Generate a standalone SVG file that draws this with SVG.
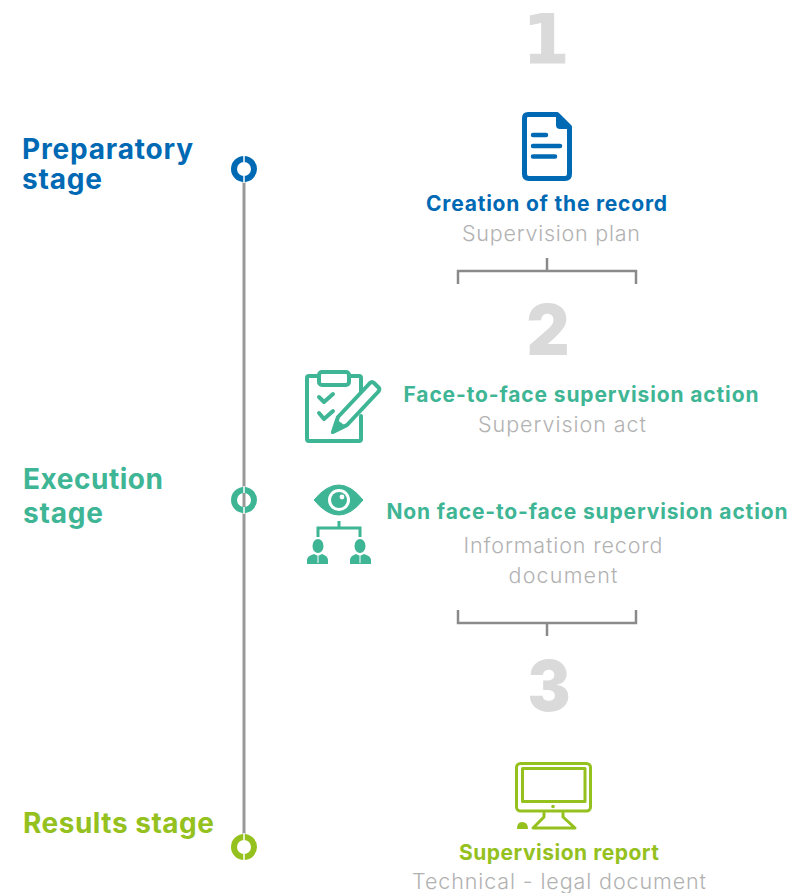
<svg xmlns="http://www.w3.org/2000/svg" width="803" height="893" viewBox="0 0 803 893">
<style>
text{font-family:Inter,"Open Sans",sans-serif}
.num{font-size:70px;font-weight:900;fill:#dadada;text-anchor:middle}
.one{font-family:"DejaVu Sans",sans-serif;font-size:67px;font-weight:700;stroke:#dadada;stroke-width:1}
.stage{font-size:28px;font-weight:700}
.title{font-size:21px;font-weight:700;text-anchor:middle}
.sub{font-size:21.5px;font-weight:300;fill:#b2b2b2;text-anchor:middle}
.blue{fill:#0069b4}.teal{fill:#3eb594}.green{fill:#95c11f}
.ln{fill:none;stroke:#8a8a8a;stroke-width:2.5}
.ring{fill:none;stroke-width:6}
.gap{stroke:#fff;stroke-width:1.5}
.sb{fill:none;stroke:#0069b4;stroke-linecap:round;stroke-linejoin:round}
.st{fill:none;stroke:#3eb594;stroke-linecap:round;stroke-linejoin:round}
.sg{fill:none;stroke:#95c11f;stroke-linecap:round;stroke-linejoin:round}
</style>
<rect width="803" height="893" fill="#fff"/>
<g id="connectors">
<path class="ln" style="stroke:#999;stroke-width:3" d="M244 180V836"/>
<path class="ln" d="M547 258V271M458 284V271H636V284"/>
<path class="ln" d="M547 636V623M458 610V623H636V610"/>
</g>
<g id="node-preparatory">
<text class="stage blue" x="22" y="159" textLength="171">Preparatory</text>
<text class="stage blue" x="22" y="189" textLength="80">stage</text>
<circle cx="244" cy="169" r="10" class="ring" stroke="#0069b4"/>
<path class="gap" d="M244 155V162M244 176V183"/>
</g>
<g id="node-execution">
<text class="stage teal" x="23" y="489" textLength="140">Execution</text>
<text class="stage teal" x="23" y="523" textLength="80">stage</text>
<circle cx="244" cy="500" r="10" class="ring" stroke="#3eb594"/>
<path class="gap" d="M244 486V493M244 507V514"/>
</g>
<g id="node-results">
<text class="stage green" x="23" y="833" textLength="191">Results stage</text>
<circle cx="244" cy="847" r="10" class="ring" stroke="#95c11f"/>
<path class="gap" d="M244 833V840M244 854V861"/>
</g>
<g id="number-1"><text class="num one" x="546" y="62.500">1</text></g>
<g id="node-record">
<path class="sb" stroke-width="5" d="M528 114.500H557L569.500 127V174Q569.500 178.500 565 178.500H529Q524.500 178.500 524.500 174V118Q524.500 114.500 528 114.500Z"/>
<path d="M556 113L571 129H560Q556 129 556 125Z" fill="#0069b4"/>
<path class="sb" stroke-width="4.500" d="M533 135H546M533 146H560M533 156.500H555"/>
<text class="title blue" x="546.500" y="211" textLength="241">Creation of the record</text>
<text class="sub" x="551" y="241" textLength="178">Supervision plan</text>
</g>
<g id="number-2"><text class="num" x="548" y="355" textLength="43" lengthAdjust="spacingAndGlyphs">2</text></g>
<g id="node-face">
<path class="st" stroke-width="4" d="M319 376H309Q307 376 307 378V439Q307 441 309 441H359Q361 441 361 439V416M351 376H359Q361 376 361 378V392"/>
<rect x="319" y="372" width="30" height="13" rx="3" class="st" stroke-width="4"/>
<path class="st" stroke-width="4" d="M319 397L324 402L333 394M319 413L324 419L333 411"/>
<path d="M374 383L379 388Q380 390 378 392L347 425L333 432L338 417L370 383Q372 381 374 383Z" fill="#fff" stroke="#3eb594" stroke-width="4" stroke-linejoin="round"/>
<path d="M336 419L347 427L331 434Z" fill="#3eb594"/>
<text class="title teal" x="581" y="402" textLength="355">Face-to-face supervision action</text>
<text class="sub" x="562" y="432" textLength="168">Supervision act</text>
</g>
<g id="node-nonface">
<path d="M314 500Q339 470 363 500Q339 530 314 500Z" fill="#3eb594" stroke="#3eb594" stroke-linejoin="round"/>
<circle cx="339" cy="500" r="11" fill="#fff"/>
<circle cx="339" cy="500" r="8" fill="#3eb594"/>
<circle cx="342" cy="497" r="2.400" fill="#fff"/>
<path class="st" stroke-width="3" style="stroke-linecap:butt;stroke-linejoin:miter" d="M339 521V528M318 537V528H360V537"/>
<g fill="#3eb594">
<ellipse cx="318" cy="546" rx="5.500" ry="7"/><path d="M307 564V560Q307 556 314 554L318 556L322 554Q328 556 328 560V564Z"/>
<ellipse cx="360" cy="546" rx="5.500" ry="7"/><path d="M350 564V560Q350 556 356 554L360 556L364 554Q371 556 371 560V564Z"/>
</g>
<path d="M318 556V563M360 556V563" stroke="#fff" stroke-width="1"/>
<text class="title teal" x="587" y="519" textLength="401">Non face-to-face supervision action</text>
<text class="sub" x="563" y="553" textLength="199">Information record</text>
<text class="sub" x="563" y="583" textLength="109">document</text>
</g>
<g id="number-3"><text class="num" x="549" y="711" textLength="43" lengthAdjust="spacingAndGlyphs">3</text></g>
<g id="node-report">
<rect x="516.500" y="763.500" width="74" height="47.500" rx="4" class="sg" stroke-width="3"/>
<rect x="522.500" y="768.500" width="62.500" height="33" class="sg" stroke-width="3"/>
<circle cx="553" cy="806.500" r="1.800" fill="#95c11f"/>
<path class="sg" stroke-width="3" d="M544 813V817L533 828H575L563 817V813"/>
<path d="M517 829Q517 822 522 822Q528 822 528 829Z" fill="#95c11f"/>
<text class="title green" x="559" y="860" textLength="200">Supervision report</text>
<text class="sub" x="559" y="889" textLength="294">Technical - legal document</text>
</g>
</svg>
